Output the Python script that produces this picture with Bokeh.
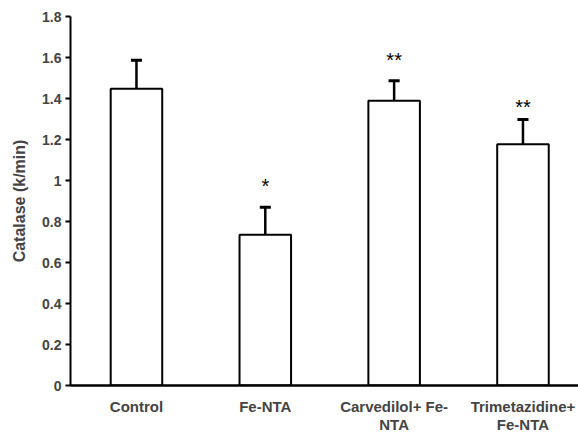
from bokeh.plotting import figure
from bokeh.models import Range1d, FixedTicker, ColumnDataSource
from bokeh.core.properties import value
from bokeh.embed import file_html
from bokeh.resources import INLINE

# ---- data ----
categories = ["Control", "Fe-NTA", "Carvedilol+ Fe-\nNTA", "Trimetazidine+\nFe-NTA"]
means = [1.447, 0.735, 1.389, 1.177]
errors = [0.140, 0.135, 0.098, 0.120]
stars = ["", "*", "**", "**"]
star_y = [0.0, 0.972, 1.59, 1.36]
y_ticks = [0, 0.2, 0.4, 0.6, 0.8, 1, 1.2, 1.4, 1.6, 1.8]
y_tick_labels = ["0", "0.2", "0.4", "0.6", "0.8", "1", "1.2", "1.4", "1.6", "1.8"]

FONT = "Liberation Sans"
xs = list(range(len(categories)))
bar_w = 0.40
cap_half = 0.043

src = ColumnDataSource(dict(
    x=xs, top=means,
    err_top=[m + e for m, e in zip(means, errors)],
    cap_l=[x - cap_half for x in xs], cap_r=[x + cap_half for x in xs],
))
star_src = ColumnDataSource(dict(
    x=[x for x, s in zip(xs, stars) if s],
    y=[y for y, s in zip(star_y, stars) if s],
    t=[s for s in stars if s],
))

p = figure(width=578, height=436, output_backend="svg", toolbar_location=None,
           x_range=Range1d(-0.512, 3.431), y_range=Range1d(0, 1.8),
           min_border_left=70, min_border_right=0, min_border_top=16, min_border_bottom=48)
p.outline_line_color = None
p.grid.grid_line_color = None
p.background_fill_color = "white"
p.border_fill_color = "white"

p.vbar(x="x", top="top", width=bar_w, bottom=0, source=src,
       fill_color="white", line_color="black", line_width=2)
p.segment(x0="x", y0="top", x1="x", y1="err_top", source=src, line_color="black", line_width=2.5)
p.segment(x0="cap_l", y0="err_top", x1="cap_r", y1="err_top", source=src,
          line_color="black", line_width=3)
p.text(x="x", y="y", text="t", source=star_src, text_align="center", text_baseline="middle",
       text_font=value(FONT), text_font_size="20px", text_color="black")

# y axis
ya = p.yaxis[0]
ya.ticker = FixedTicker(ticks=y_ticks)
ya.major_label_overrides = {t: l for t, l in zip(y_ticks, y_tick_labels)}
ya.axis_line_width = 2
ya.major_tick_line_width = 2
ya.major_tick_out = 5
ya.major_tick_in = 0
ya.minor_tick_line_color = None
ya.major_label_text_font = FONT
ya.major_label_text_font_style = "bold"
ya.major_label_text_font_size = "14px"
ya.major_label_standoff = 4
ya.axis_label = "Catalase (k/min)"
ya.axis_label_text_font = FONT
ya.axis_label_text_font_style = "bold"
ya.axis_label_text_font_size = "16px"
ya.axis_label_standoff = 11

# x axis (two-line category labels)
xa = p.xaxis[0]
xa.ticker = FixedTicker(ticks=xs)
xa.major_label_overrides = {x: c for x, c in zip(xs, categories)}
xa.axis_line_width = 2.5
xa.major_tick_line_color = None
xa.major_tick_out = 0
xa.major_tick_in = 0
xa.minor_tick_line_color = None
xa.minor_tick_out = 0
xa.major_label_text_font = FONT
xa.major_label_text_font_style = "bold"
xa.major_label_text_font_size = "15px"
xa.major_label_text_line_height = 1.1
xa.major_label_standoff = 12

open("out.html", "w").write(file_html(p, INLINE))
